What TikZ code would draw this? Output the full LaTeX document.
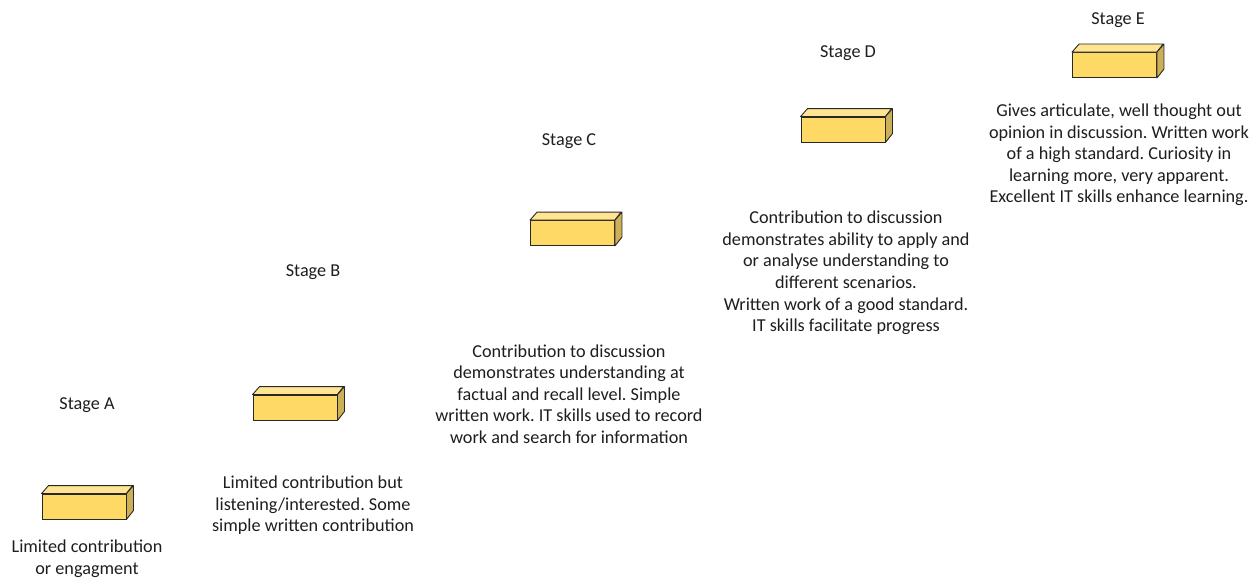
\documentclass[tikz,border=0pt]{standalone}
\usepackage{fontspec}
\setmainfont{Carlito}
\frenchspacing
\definecolor{frontcol}{RGB}{255,217,102}
\definecolor{topcol}{RGB}{255,228,145}
\definecolor{sidecol}{RGB}{205,175,85}
\definecolor{edgecol}{RGB}{40,40,40}
\definecolor{txtcol}{RGB}{30,30,30}
\tikzset{
  frontface/.style={draw=edgecol, fill=frontcol, line width=0.9pt, minimum width=84pt, minimum height=25pt, inner sep=0pt},
  topface/.style={draw=edgecol, fill=topcol, line width=0.9pt, line join=round},
  sideface/.style={draw=edgecol, fill=sidecol, line width=0.9pt, line join=round},
  stagelabel/.style={font=\fontsize{18.2}{21.6}\selectfont, text=txtcol, inner sep=0pt},
  desc/.style={font=\fontsize{18.2}{21.6}\selectfont, text=txtcol, align=center, inner sep=0pt}
}
\newcommand{\stagebox}[3]{%
  \node[frontface] (#1) at (#2,#3) {};
  \path[topface] (#1.north west) -- ++(7,-8) -- ++(84,0) -- (#1.north east) -- cycle;
  \path[sideface] (#1.north east) -- ++(7,-8) -- ++(0,25) -- (#1.south east) -- cycle;
}
\begin{document}
\begin{tikzpicture}[x=1pt,y=-1pt]
\useasboundingbox (0,0) rectangle (1260,578);
% Stage A
\node[stagelabel] (lA) at (87,405) {Stage A};
\stagebox{bA}{84}{506.5}
\node[desc] (tA) at (87,559) {Limited contribution\\or engagment};
% Stage B
\node[stagelabel] (lB) at (313,272) {Stage B};
\stagebox{bB}{295}{407.5}
\node[desc] (tB) at (313,505.5) {Limited contribution but\\listening/interested. Some\\simple written contribution};
% Stage C
\node[stagelabel] (lC) at (569,141) {Stage C};
\stagebox{bC}{572.5}{233}
\node[desc] (tC) at (569,394) {Contribution to discussion\\demonstrates understanding at\\factual and recall level. Simple\\written work. IT skills used to record\\work and search for information};
% Stage D
\node[stagelabel] (lD) at (848,53) {Stage D};
\stagebox{bD}{843}{129.5}
\node[desc] (tD) at (846,273) {Contribution to discussion\\demonstrates ability to apply and\\or analyse understanding to\\different scenarios.\\Written work of a good standard.\\IT skills facilitate progress};
% Stage E
\node[stagelabel] (lE) at (1118,20) {Stage E};
\stagebox{bE}{1114.5}{65}
\node[desc] (tE) at (1119,155) {Gives articulate, well thought out\\opinion in discussion. Written work\\of a high standard. Curiosity in\\learning more, very apparent.\\Excellent IT skills enhance learning.};
\end{tikzpicture}
\end{document}
